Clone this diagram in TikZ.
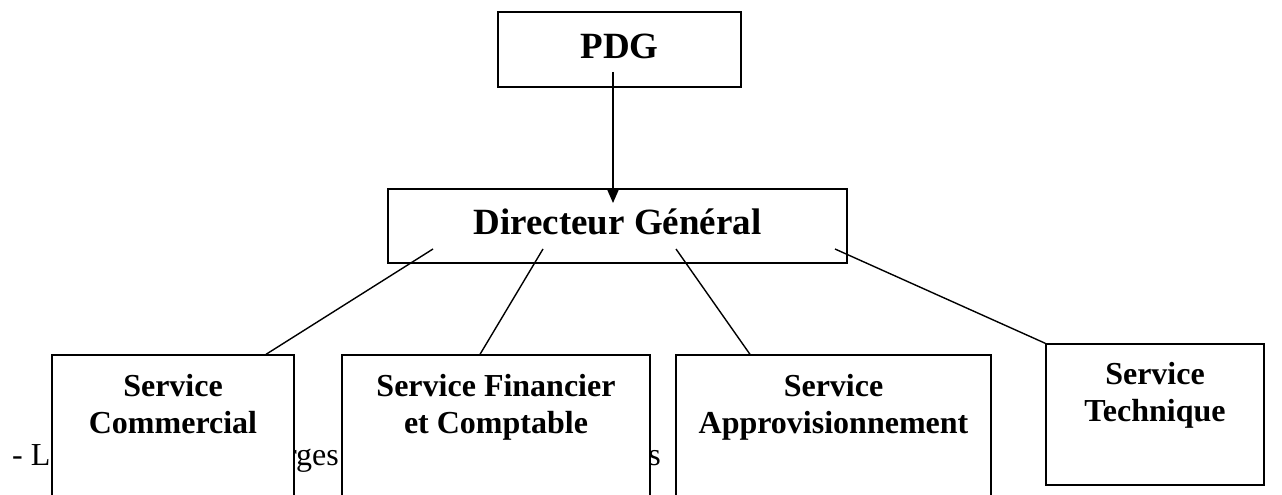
\documentclass[tikz,border=0pt]{standalone}
\usepackage{fontspec}
\setmainfont{Liberation Serif}
\usetikzlibrary{calc,arrows.meta}
\begin{document}
\begin{tikzpicture}[x=1pt,y=1pt,
  box/.style={draw, line width=1.3pt, fill=white, inner sep=0pt, rectangle},
  lbl/.style={font=\fontsize{32}{37}\selectfont\bfseries, inner sep=0pt, anchor=base},
  big/.style={font=\fontsize{37}{44}\selectfont\bfseries, inner sep=0pt, anchor=base},
  bg/.style={font=\fontsize{32}{37}\selectfont, inner sep=0pt},
  link/.style={line width=1.4pt}]
\useasboundingbox (0,0) rectangle (1282,495);
\clip (0,0) rectangle (1282,495);
% background text, partly hidden by the boxes
\node[bg, anchor=base west] (t1) at (12,29) {- La};
\node[bg, anchor=base east] (t2) at (339,29) {rges};
\node[bg, anchor=base east] (t3) at (661,29) {s};
% boxes
\node[box, minimum width=243, minimum height=75] (pdg) at (619.5,445.5) {};
\node[box, minimum width=459, minimum height=74] (dg) at (617.5,269) {};
\node[box, minimum width=242, minimum height=160] (com) at (173,60) {};
\node[box, minimum width=308, minimum height=160] (fin) at (496,60) {};
\node[box, minimum width=315, minimum height=160] (app) at (833.5,60) {};
\node[box, minimum width=218, minimum height=141] (tec) at (1155,80.5) {};
% texts
\node[big] (pdgt) at (619.5,436) {PDG};
\node[big] (dgt) at (617.5,260) {Directeur Général};
\node[lbl] (com1) at (173,98) {Service};
\node[lbl] (com2) at (173,61) {Commercial};
\node[lbl] (fin1) at (496,98) {Service Financier};
\node[lbl] (fin2) at (496,61) {et Comptable};
\node[lbl] (app1) at (833.5,98) {Service};
\node[lbl] (app2) at (833.5,61) {Approvisionnement};
\node[lbl] (tec1) at (1155,110) {Service};
\node[lbl] (tec2) at (1155,73) {Technique};
% connectors
\draw[link, -{Triangle[length=13pt,width=11pt]}] ($(pdg.center)+(-6.5,-22.5)$) -- ($(dg.center)+(-4.5,23)$);
\draw[link] ($(dg.center)+(-184.5,-23)$) -- ($(com.north)+(93,0)$);
\draw[link] ($(dg.center)+(-74.5,-23)$) -- ($(fin.north)+(-16,0)$);
\draw[link] ($(dg.center)+(58.5,-23)$) -- ($(app.north)+(-83.5,0)$);
\draw[link] ($(dg.center)+(217.5,-23)$) -- (tec.north west);
\end{tikzpicture}
\end{document}
